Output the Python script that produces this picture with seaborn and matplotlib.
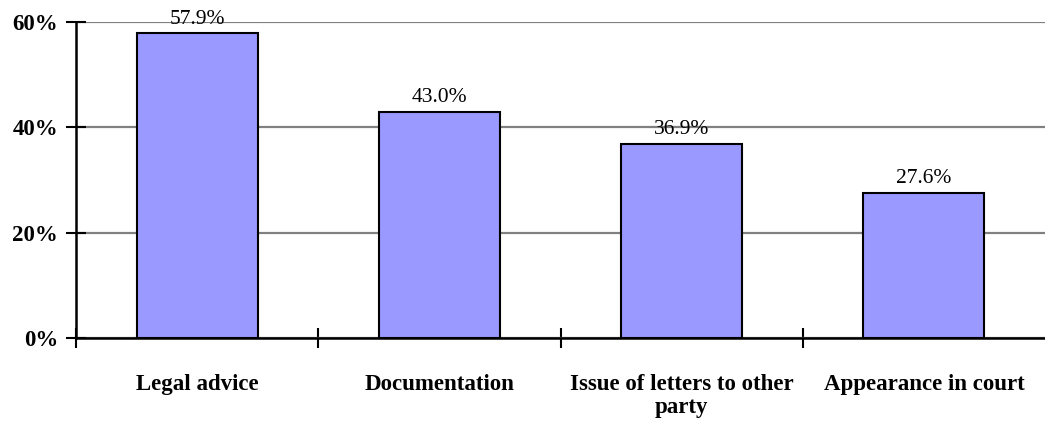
import numpy as np
import pandas as pd
import matplotlib
matplotlib.use('Agg')
import matplotlib.pyplot as plt
from matplotlib.ticker import FixedLocator, FuncFormatter
import seaborn as sns

# Data
categories = ['Legal advice', 'Documentation', 'Issue of letters to other\nparty', 'Appearance in court']
shares = [57.9, 43.0, 36.9, 27.6]

df = pd.DataFrame({'service': categories, 'share': shares})

sns.set_style('white')
plt.rcParams['font.family'] = ['Liberation Serif', 'DejaVu Serif']
plt.rcParams['text.color'] = 'black'
plt.rcParams['xtick.color'] = 'black'
plt.rcParams['ytick.color'] = 'black'

fig = plt.figure(figsize=(10.45, 4.23), dpi=100)
ax = fig.add_axes([76 / 1045, 85 / 423, 969 / 1045, 316 / 423])

sns.barplot(data=df, x='service', y='share', color='#9999FF', saturation=1,
            width=0.5, edgecolor='black', linewidth=1.5, ax=ax, zorder=3)

ax.set_ylim(0, 60)
ax.set_xlim(-0.5, len(categories) - 0.5)
ax.set_yticks([0, 20, 40, 60])
ax.yaxis.set_major_formatter(FuncFormatter(lambda v, p: f'{v:.0f}%'))
ax.yaxis.grid(True, color='#808080', linewidth=1.6, zorder=0)
ax.set_axisbelow(True)

# category boundary ticks (none at the far right end)
ax.xaxis.set_minor_locator(FixedLocator(np.arange(-0.5, len(categories) - 1, 1.0)))
ax.tick_params(axis='x', which='major', length=0, pad=26)
ax.tick_params(axis='x', which='minor', direction='inout', length=14, width=1.5, color='black', bottom=True)
ax.tick_params(axis='y', which='major', direction='inout', length=14, width=1.5, color='black', left=True, pad=6)

for lab in ax.get_xticklabels():
    lab.set_fontsize(16.5)
    lab.set_fontweight('bold')
    lab.set_color('black')
    lab.set_linespacing(1.1)
    lab.set_verticalalignment('top')
for lab in ax.get_yticklabels():
    lab.set_fontsize(16.5)
    lab.set_fontweight('bold')
    lab.set_color('black')

ax.set_xlabel('')
ax.set_ylabel('')

for s in ['top', 'right']:
    ax.spines[s].set_visible(False)
for s in ['left', 'bottom']:
    ax.spines[s].set_color('black')
    ax.spines[s].set_linewidth(1.8)

for i, v in enumerate(shares):
    ax.annotate(f'{v:.1f}%', (i, v), xytext=(0, 3), textcoords='offset points',
                ha='center', va='bottom', fontsize=15.5, color='black')

fig.savefig('out.png', dpi=100)
